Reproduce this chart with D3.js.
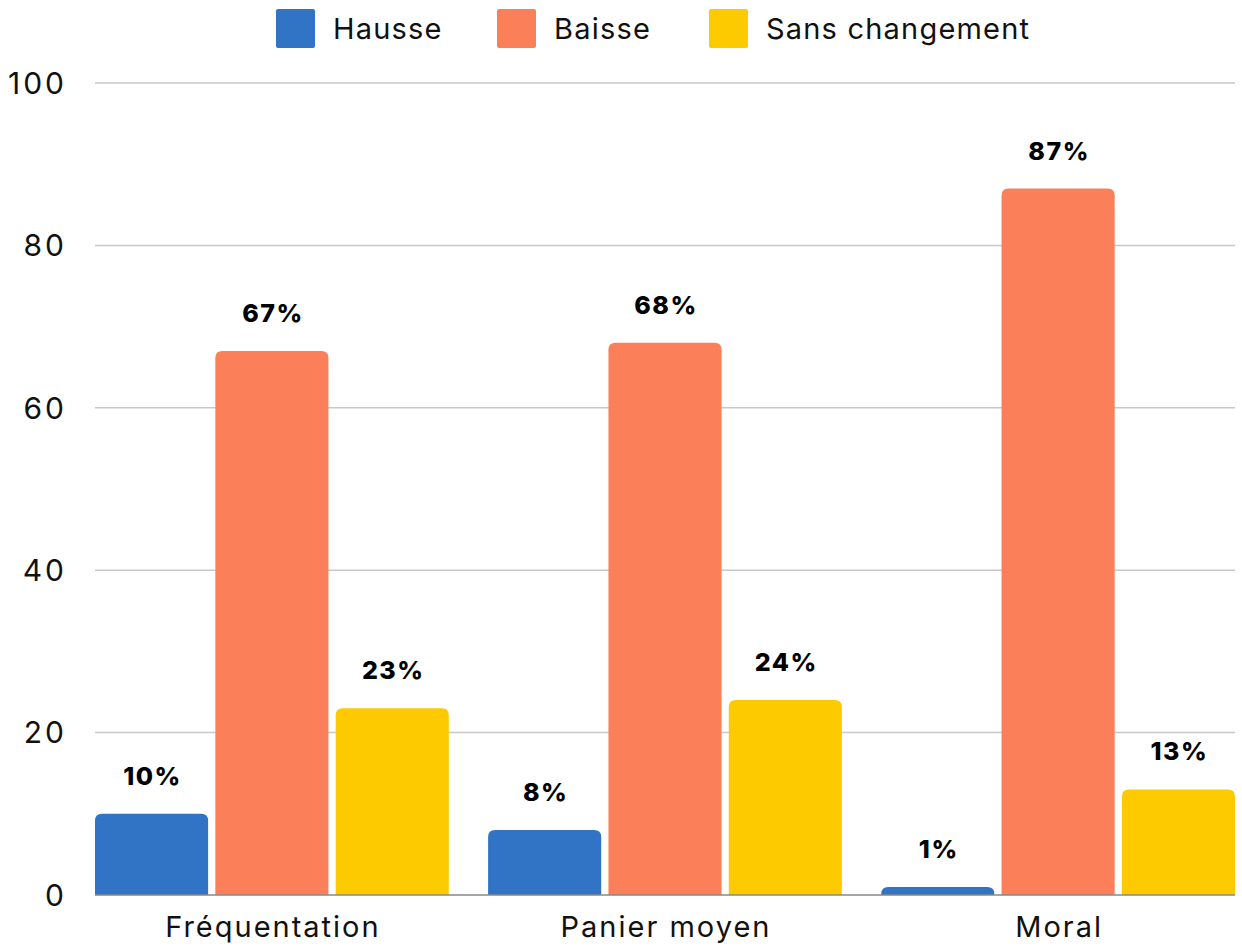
<!DOCTYPE html>
<html>
<head>
<meta charset="utf-8">
<script src="https://cdn.jsdelivr.net/npm/d3@7"></script>
<style>
  body { margin: 0; background: #fff; }
  text { font-family: Inter, "Noto Sans", sans-serif; }
</style>
</head>
<body>
<svg width="1242" height="949"></svg>
<script>
const categories = ["Fréquentation", "Panier moyen", "Moral"];
const seriesNames = ["Hausse", "Baisse", "Sans changement"];
const hausse = [10, 8, 1];
const baisse = [67, 68, 87];
const sansChangement = [23, 24, 13];
const yTicks = [0, 20, 40, 60, 80, 100];
const colors = ["#3174c6", "#fb7f59", "#fdca00"];

const series = [hausse, baisse, sansChangement];

const svg = d3.select("svg");
const margin = {top: 83, right: 7, bottom: 54, left: 95};
const width = 1242 - margin.left - margin.right;
const height = 949 - margin.top - margin.bottom;

const g = svg.append("g")
    .attr("transform", "translate(" + margin.left + "," + margin.top + ")");

const x0 = d3.scaleBand().domain(categories).range([0, width]).paddingInner(0.1).paddingOuter(0);
const x1 = d3.scaleBand().domain(seriesNames).range([0, x0.bandwidth()]).paddingInner(0.06);
const y = d3.scaleLinear().domain([0, 100]).range([height, 0]);

// gridlines
g.selectAll(".grid")
    .data(yTicks.filter(d => d > 0))
    .enter().append("line")
    .attr("x1", 0).attr("x2", width)
    .attr("y1", d => y(d)).attr("y2", d => y(d))
    .attr("stroke", "#c8c8c8")
    .attr("stroke-width", 1.5);

// y labels
g.selectAll(".ylab")
    .data(yTicks)
    .enter().append("text")
    .attr("x", -28)
    .attr("y", d => y(d))
    .attr("dy", "0.36em")
    .attr("text-anchor", "end")
    .attr("font-size", 30)
    .attr("letter-spacing", 3)
    .attr("fill", "#111")
    .text(d => d);

// rounded-top bar path
function barPath(x, yTop, w, h, r) {
  r = Math.min(r, h, w / 2);
  return "M" + x + "," + (yTop + h) +
    "V" + (yTop + r) +
    "Q" + x + "," + yTop + " " + (x + r) + "," + yTop +
    "H" + (x + w - r) +
    "Q" + (x + w) + "," + yTop + " " + (x + w) + "," + (yTop + r) +
    "V" + (yTop + h) + "Z";
}

const groups = g.selectAll(".group")
    .data(categories)
    .enter().append("g")
    .attr("transform", d => "translate(" + x0(d) + ",0)");

groups.each(function(cat, ci) {
  const grp = d3.select(this);
  seriesNames.forEach((s, si) => {
    const v = series[si][ci];
    grp.append("path")
        .attr("d", barPath(x1(s), y(v), x1.bandwidth(), height - y(v), 7))
        .attr("fill", colors[si]);
    grp.append("text")
        .attr("x", x1(s) + x1.bandwidth() / 2 + 1)
        .attr("y", y(v) - 29)
        .attr("text-anchor", "middle")
        .attr("font-size", 25)
        .attr("letter-spacing", 1.5)
        .attr("font-weight", 800)
        .attr("fill", "#000")
        .text(v + "%");
  });
});

// zero line
g.append("line")
    .attr("x1", 0).attr("x2", width)
    .attr("y1", y(0)).attr("y2", y(0))
    .attr("stroke", "#888")
    .attr("stroke-width", 1.5);

// category labels
g.selectAll(".xlab")
    .data(categories)
    .enter().append("text")
    .attr("x", d => x0(d) + x0.bandwidth() / 2 + 1)
    .attr("y", height + 42)
    .attr("text-anchor", "middle")
    .attr("font-size", 29)
    .attr("letter-spacing", 2)
    .attr("fill", "#111")
    .text(d => d);

// legend
const legendX = [276, 497, 709];
const legend = svg.selectAll(".legend")
    .data(seriesNames)
    .enter().append("g")
    .attr("transform", (d, i) => "translate(" + legendX[i] + ",9)");
legend.append("rect")
    .attr("width", 39).attr("height", 39).attr("rx", 2)
    .attr("fill", (d, i) => colors[i]);
legend.append("text")
    .attr("x", 57).attr("y", 20)
    .attr("dy", "0.36em")
    .attr("font-size", 29)
    .attr("letter-spacing", 1.2)
    .attr("fill", "#111")
    .text(d => d);
</script>
</body>
</html>
